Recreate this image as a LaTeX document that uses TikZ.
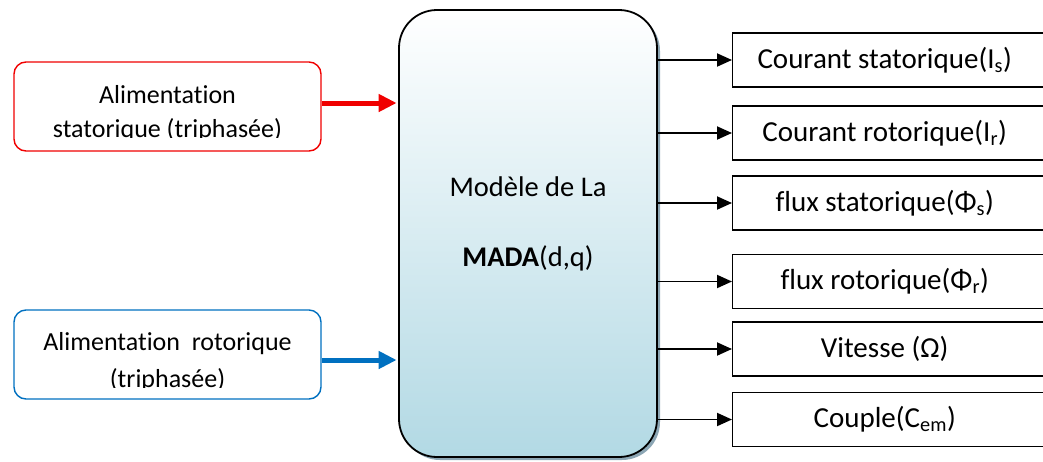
\documentclass[tikz,border=0pt]{standalone}
\usepackage{fontspec}
\setmainfont{Carlito}[RawFeature={-liga;-clig;-calt;-dlig}]
\usetikzlibrary{arrows.meta,shadows}
\definecolor{redline}{RGB}{240,0,0}
\definecolor{blueline}{RGB}{0,112,192}
\definecolor{modbot}{RGB}{178,217,228}
\definecolor{shadowc}{RGB}{140,166,180}
\tikzset{
  inbox/.style={draw, line width=1.4pt, rounded corners=12pt, minimum width=307pt, minimum height=89pt, inner sep=0pt},
  intext/.style={anchor=base, inner sep=0pt, font=\fontsize{26}{31}\selectfont},
  model/.style={draw, line width=1.8pt, rounded corners=38pt, minimum width=258pt, minimum height=447pt,
    top color=white, bottom color=modbot,
    drop shadow={shadow xshift=3pt, shadow yshift=-3pt, fill=shadowc, opacity=1}},
  modtext/.style={anchor=base, inner sep=0pt, font=\fontsize{28.5}{34}\selectfont},
  outbox/.style={draw, line width=1.4pt, anchor=west, minimum height=54pt, inner xsep=0pt, inner ysep=0pt,
    font=\fontsize{29}{34}\selectfont},
  outarrow/.style={line width=1.9pt, -{Triangle[length=15pt,width=13pt]}},
  inarrow/.style={line width=5pt, -{Triangle[length=18pt,width=17pt]}, shorten >=1.5pt},
}
\newcommand{\outlabel}[1]{\makebox[304pt]{\raisebox{-2pt}{#1}}\hspace*{40pt}}
\begin{document}
\begin{tikzpicture}[x=1pt,y=-1pt]
\useasboundingbox (0,0) rectangle (1043,461);
\clip (0,0) rectangle (1043,461);

% central model box
\node[model] (m) at (528,233.5) {};
\node[modtext] (mt1) at (528,196) {Modèle de La};
\node[modtext] (mt2) at (528,266) {\textbf{MADA}(d,q)};

% input boxes
\node[inbox, draw=redline] (rs) at (167.5,106.5) {};
\begin{scope}
  \clip (14,62) rectangle (321,137.5);
  \node[intext] (rs1) at (167.5,103) {Alimentation};
  \node[intext] (rs2) at (167.5,137) {statorique (triphasée)};
\end{scope}

\node[inbox, draw=blueline] (br) at (167.5,354.5) {};
\begin{scope}
  \clip (14,310) rectangle (321,387.5);
  \node[intext] (br1) at (167.5,350) {Alimentation~~rotorique};
  \node[intext] (br2) at (167.5,387) {(triphasée)};
\end{scope}

\draw[inarrow, redline] ([yshift=3.5pt]rs.east) -- (m.west |- 0,103);
\draw[inarrow, blueline] ([yshift=-5.5pt]br.east) -- (m.west |- 0,360);

% output boxes
\node[outbox] (o1) at (732,60)    {\outlabel{Courant statorique(I\textsubscript{s})}};
\node[outbox] (o2) at (732,133)   {\outlabel{Courant rotorique(I\textsubscript{r})}};
\node[outbox] (o3) at (732,203)   {\outlabel{flux statorique(Φ\textsubscript{s})}};
\node[outbox] (o4) at (732,281.5) {\outlabel{flux rotorique(Φ\textsubscript{r})}};
\node[outbox] (o5) at (732,349)   {\outlabel{Vitesse (Ω)}};
\node[outbox] (o6) at (732,419.5) {\outlabel{Couple(C\textsubscript{em})}};

\foreach \o in {o1,o2,o3,o4,o5,o6}
  \draw[outarrow] (m.east |- \o.west) -- (\o.west);
\end{tikzpicture}
\end{document}
